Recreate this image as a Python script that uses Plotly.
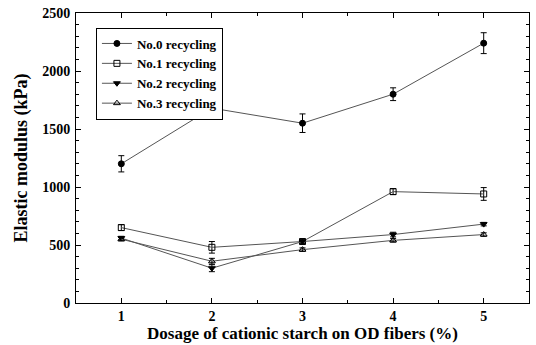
import plotly.graph_objects as go

dosage = [1, 2, 3, 4, 5]
no0 = [1200, 1680, 1550, 1800, 2240]
no0_err = [70, 75, 80, 55, 90]
no1 = [650, 480, 530, 960, 940]
no1_err = [25, 50, 20, 25, 55]
no2 = [560, 300, 530, 590, 680]
no2_err = [15, 30, 15, 20, 15]
no3 = [550, 360, 460, 540, 590]
no3_err = [15, 25, 15, 15, 15]

x_ticks = ["1", "2", "3", "4", "5"]
y_ticks = [0, 500, 1000, 1500, 2000, 2500]

names = ["No.0 recycling", "No.1 recycling", "No.2 recycling", "No.3 recycling"]
series = [no0, no1, no2, no3]
errs = [no0_err, no1_err, no2_err, no3_err]
symbols = ["circle", "square-open", "triangle-down", "triangle-up-open"]

font = dict(family="Liberation Serif, Times New Roman, serif", color="black")

fig = go.Figure()
for n, ys, e, s in zip(names, series, errs, symbols):
    fig.add_trace(go.Scatter(
        x=dosage, y=ys, name="<b>" + n + "</b>", mode="lines+markers",
        line=dict(color="#555", width=1),
        marker=dict(symbol=s, size=6, color="black", line=dict(color="black", width=1)),
        error_y=dict(type="data", array=e, visible=True, color="black", thickness=1, width=3),
    ))

axis_common = dict(
    showline=True, linecolor="black", linewidth=1, mirror="ticks",
    ticks="inside", ticklen=5, tickcolor="black", showgrid=False, zeroline=False,
    tickfont=dict(size=14, **font),
)
fig.update_xaxes(range=[0.5, 5.5], tickvals=dosage, ticktext=["<b>" + t + "</b>" for t in x_ticks],
                 ticklabelstandoff=0,
                 minor=dict(ticks="inside", ticklen=3, dtick=0.5, tick0=0.5, tickcolor="black"),
                 title=dict(text="<b>Dosage of cationic starch on OD fibers (%)</b>",
                            font=dict(size=17, **font), standoff=0),
                 **axis_common)
fig.update_yaxes(range=[0, 2500], tickvals=y_ticks,
                 ticktext=["<b>" + str(v) + "</b>" for v in y_ticks],
                 ticklabelstandoff=2,
                 minor=dict(ticks="inside", ticklen=3, dtick=100, tickcolor="black"),
                 title=dict(text="<b>Elastic modulus (kPa)</b>", font=dict(size=18, **font), standoff=9),
                 **axis_common)

fig.update_layout(
    width=536, height=345,
    margin=dict(l=76, r=6, t=11, b=42),
    paper_bgcolor="white", plot_bgcolor="white",
    font=font,
    legend=dict(x=0.044, y=0.95, xanchor="left", yanchor="top",
                bordercolor="black", borderwidth=1, bgcolor="white",
                font=dict(size=13, **font), tracegroupgap=0, itemwidth=30),
    showlegend=True,
)
fig.write_html("out.html", config={"displayModeBar": False},
               post_script="document.body.style.margin='0';document.body.style.overflow='hidden';")
